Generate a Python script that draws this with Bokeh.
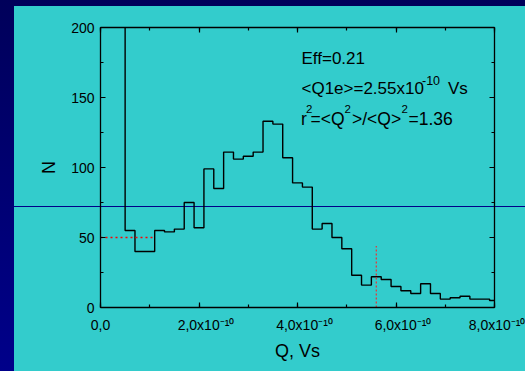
from bokeh.plotting import figure
from bokeh.models import (LinearAxis, SingleIntervalTicker, Label, Range1d,
                          CustomJSTickFormatter)
from bokeh.layouts import column
from bokeh.embed import file_html
from bokeh.resources import INLINE

# ---------------- data (Q in units of 1e-10 Vs) ----------------
bin_left = [0.5, 0.7, 0.9, 1.1, 1.3, 1.5, 1.7, 1.9, 2.1, 2.3,
            2.5, 2.7, 2.9, 3.1, 3.3, 3.5, 3.7, 3.9, 4.1, 4.3,
            4.5, 4.7, 4.9, 5.1, 5.3, 5.5, 5.7, 5.9, 6.1, 6.3,
            6.5, 6.7, 6.9, 7.1, 7.3, 7.5, 7.7, 7.9]
bin_width = 0.2
counts = [55, 40, 40, 55, 54, 56, 75, 57, 99, 85,
          111, 106, 108, 111, 133, 131, 107, 89, 86, 56,
          60, 50, 42, 23, 16, 22, 20, 15, 12, 10,
          17, 10, 6, 7, 8, 6, 6, 5]
first_bin_count = 250          # pedestal bin just below 0.5, off scale (>200)

threshold_q = [0.0, 1.07]      # red dotted horizontal marker
threshold_n = [50, 50]
mark_q = [5.6, 5.6]            # red dotted vertical marker
mark_n = [0, 44]

x_ticks = [0, 2, 4, 6, 8]
x_tick_labels = ["0,0", "2,0x10", "4,0x10", "6,0x10", "8,0x10"]
x_tick_exps = ["", "⁻¹⁰", "⁻¹⁰", "⁻¹⁰", "⁻¹⁰"]

# ---------------- styling ----------------
FONT = "Liberation Sans"
FL, FB = 100, 307   # frame left / bottom in page pixels (for screen-unit texts)

p = figure(frame_width=394, frame_height=280,
           min_border_left=86, min_border_right=31,
           min_border_top=21, min_border_bottom=64,
           x_range=Range1d(0, 8), y_range=Range1d(0, 200),
           x_axis_location=None, y_axis_location=None,
           background_fill_color=None, border_fill_color=None,
           output_backend="svg", toolbar_location=None)
p.grid.visible = False
p.outline_line_color = None
p.margin = (6, 0, 0, 14)


def style_axis(ax, show_labels):
    ax.axis_line_color = "black"
    ax.axis_line_width = 1.3
    ax.major_tick_line_color = "black"
    ax.minor_tick_line_color = "black"
    ax.major_tick_line_width = 1.2
    ax.minor_tick_line_width = 1.2
    ax.major_tick_in = 5
    ax.major_tick_out = 0
    ax.minor_tick_in = 3
    ax.minor_tick_out = 0
    ax.major_label_text_font = FONT
    ax.major_label_text_color = "black"
    ax.major_label_text_font_size = "14px"
    if not show_labels:
        ax.formatter = CustomJSTickFormatter(code="return ''")
    ax.axis_label_text_font = FONT
    ax.axis_label_text_font_style = "normal"
    ax.axis_label_text_font_size = "18px"
    ax.axis_label_text_color = "black"


# tick label = mantissa + superscript exponent; a leading em space balances the
# exponent so that the mantissa stays centred on its tick
x_label_text = {}
for t, s, e in zip(x_ticks, x_tick_labels, x_tick_exps):
    x_label_text[t] = ("\u2003" + s + e) if e else s

xb = LinearAxis(ticker=SingleIntervalTicker(interval=2, num_minor_ticks=2))
style_axis(xb, True)
xb.major_label_overrides = x_label_text
xb.major_label_standoff = 9
xb.axis_label = "Q, Vs"
xb.axis_label_standoff = 5
p.add_layout(xb, "below")

xt = LinearAxis(ticker=SingleIntervalTicker(interval=2, num_minor_ticks=2))
style_axis(xt, False)
p.add_layout(xt, "above")

yl = LinearAxis(ticker=SingleIntervalTicker(interval=50, num_minor_ticks=2))
style_axis(yl, True)
yl.major_label_standoff = 6
yl.axis_label = "N"
yl.axis_label_standoff = 9
p.add_layout(yl, "left")

yr = LinearAxis(ticker=SingleIntervalTicker(interval=50, num_minor_ticks=2))
style_axis(yr, False)
p.add_layout(yr, "right")

# histogram as step line
hx = [bin_left[0]]
hy = [first_bin_count]
for left, c in zip(bin_left, counts):
    hx += [left, left + bin_width]
    hy += [c, c]
p.line(hx, hy, line_color="black", line_width=1.4)

# red dotted markers
p.line(threshold_q, threshold_n, line_color="#ff0000", line_width=1.5, line_dash="2 3")
p.line(mark_q, mark_n, line_color="#e03c3c", line_width=1.3, line_dash="2 2")


def txt(s, cx, cy, size):
    p.add_layout(Label(x=cx - FL, y=FB - cy, x_units="screen", y_units="screen",
                       text=s, text_font=FONT, text_font_size=size,
                       text_color="black", text_align="left",
                       text_baseline="alphabetic"))


BIG, SUP = "17px", "11.5px"
L3 = "17.5px"
txt("Eff=0.21", 301, 58.3, BIG)
txt("<Q1e>=2.55x10", 301, 88.3, BIG)
txt("-10", 421.5, 79.5, "12.5px")
txt("Vs", 447.5, 88.3, BIG)
txt("r", 300.5, 118.2, L3)
txt("2", 305.5, 108.7, SUP)
txt("=<Q", 310, 118.2, L3)
txt("2", 344.0, 108.7, SUP)
txt(">/<Q>", 351.5, 118.2, L3)
txt("2", 401, 108.7, SUP)
txt("=1.36", 408, 118.2, L3)

bg = ("linear-gradient(#000088, #000088) 14px 206px / 511px 1px no-repeat, "
      "linear-gradient(#33cccc, #33cccc) 14px 6px / 511px 365px no-repeat, "
      "linear-gradient(to bottom, #00005a, #00008a)")
layout = column(p, styles={"background": bg})

open("out.html", "w").write(file_html(layout, INLINE))
